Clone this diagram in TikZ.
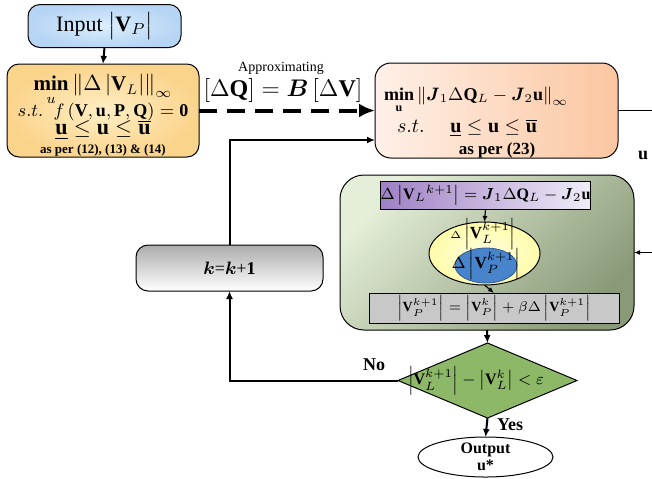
\documentclass[tikz,border=0pt]{standalone}
\usepackage{amsmath, amssymb}
\usepackage{fontspec}
\setmainfont{Liberation Serif}
\usepackage{tikz}
\usetikzlibrary{shapes.geometric, arrows.meta}

\begin{document}
\begin{tikzpicture}[x=0.5pt, y=-0.5pt,
    every node/.style={inner sep=0pt, outer sep=0pt},
    box/.style={draw=black, line width=0.5pt, rounded corners=6pt},
    flow/.style={-{Latex[length=4pt,width=3.5pt]}, line width=1pt},
    thin flow/.style={-{Latex[length=3pt,width=2.5pt]}, line width=0.6pt},
    lbl/.style={font=\fontsize{9}{10}\selectfont\bfseries}]
    % Custom colours for the boxes
    \definecolor{inputIn}{RGB}{220,238,253}    % centre of the input box
    \definecolor{inputOut}{RGB}{182,213,244}   % rim of the input box
    \definecolor{minIn}{RGB}{255,238,196}      % centre of the first problem
    \definecolor{minOut}{RGB}{251,212,140}     % rim of the first problem
    \definecolor{optLeft}{RGB}{255,240,232}    % linearised problem, left
    \definecolor{optRight}{RGB}{251,198,160}   % linearised problem, right
    \definecolor{greenLight}{RGB}{228,238,216} % update block, light corner
    \definecolor{greenDark}{RGB}{138,154,120}  % update block, dark corner
    \definecolor{purpleDark}{RGB}{158,128,196}
    \definecolor{purpleLight}{RGB}{240,236,248}
    \definecolor{ellYellow}{RGB}{255,252,170}
    \definecolor{ellBlue}{RGB}{72,132,204}
    \definecolor{grayBox}{RGB}{200,200,200}
    \definecolor{checkGreen}{RGB}{140,184,104}

    \useasboundingbox (0,0) rectangle (652,478);

    % Input and the original problem
    \node[box, inner color=inputIn, outer color=inputOut, minimum width=76.5pt,
          minimum height=21.5pt, font=\fontsize{11}{12}\selectfont] (input) at (104.5,26)
          {Input $\bigl|\mathbf{V}_{P}\bigr|$};
    \node[box, inner color=minIn, outer color=minOut, minimum width=96pt,
          minimum height=46.5pt] (minA) at (103,110.5) {};
    \node[font=\fontsize{10.5}{12}\selectfont] (minA1) at (103,90)
          {$\mathop{\mathbf{min}}\limits_{u}\left\|\Delta\left|\mathbf{V}_{L}\right|\right\|_{\infty}$};
    \node[font=\fontsize{9}{10}\selectfont] (minA2) at (103,112)
          {$s.t.\;\; f\,(\mathbf{V},\mathbf{u},\mathbf{P},\mathbf{Q})=\mathbf{0}$};
    \node[font=\fontsize{11}{12}\selectfont] (minA3) at (103,130)
          {$\underline{\mathbf{u}}\le\mathbf{u}\le\overline{\mathbf{u}}$};
    \node[font=\fontsize{6.5}{7}\selectfont\bfseries] (minA4) at (103,150)
          {as per (12), (13) \& (14)};

    % Approximation step
    \node[font=\fontsize{7}{8}\selectfont] (approx) at (281,68) {Approximating};
    \node[font=\fontsize{12}{13}\selectfont] (approxEq) at (283,90)
          {$\left[\Delta\mathbf{Q}\right]=\boldsymbol{B}\left[\Delta\mathbf{V}\right]$};

    % Linearised problem
    \node[box, left color=optLeft, right color=optRight, minimum width=121.5pt,
          minimum height=47.5pt, rounded corners=8pt] (optB) at (496.5,110.5) {};
    \node[anchor=west, font=\fontsize{9}{10}\selectfont] (optB1) at (384,100)
          {$\mathop{\mathbf{min}}\limits_{\mathbf{u}}\left\|\boldsymbol{J}_{1}\Delta\mathbf{Q}_{L}-\boldsymbol{J}_{2}\mathbf{u}\right\|_{\infty}$};
    \node[anchor=west, font=\fontsize{10}{12}\selectfont] (optB2) at (397,128)
          {$s.t.\quad\;\underline{\mathbf{u}}\le\mathbf{u}\le\overline{\mathbf{u}}$};
    \node[font=\fontsize{8.5}{9}\selectfont\bfseries] (optB3) at (497,150) {as per (23)};

    % Update block
    \node[box, top color=greenLight, bottom color=greenDark, shading angle=45,
          minimum width=147pt, minimum height=77.5pt, rounded corners=12pt] (upd) at (487,252.5) {};
    \node[draw=black, line width=0.5pt, left color=purpleDark, right color=purpleLight,
          minimum width=95.5pt, minimum height=14pt, font=\fontsize{8}{9}\selectfont] (dV) at (485.5,195)
          {$\Delta\left|\mathbf{V}_{L}{}^{k+1}\right|=\boldsymbol{J}_{1}\Delta\mathbf{Q}_{L}-\boldsymbol{J}_{2}\mathbf{u}$};
    \node[ellipse, draw=black, line width=0.5pt, inner color=ellYellow!40, outer color=ellYellow,
          minimum width=55.5pt, minimum height=31.5pt] (ellL) at (484.5,253.5) {};
    \node[ellipse, draw=ellBlue!70!black, line width=0.4pt, fill=ellBlue,
          minimum width=31pt, minimum height=17.5pt] (ellP) at (486,265.5) {};
    \node[font=\fontsize{8.5}{9}\selectfont] (ellLtxt) at (483,234)
          {${\scriptscriptstyle\Delta}\left|\mathbf{V}_{L}^{k+1}\right|$};
    \node[font=\fontsize{8.5}{9}\selectfont] (ellPtxt) at (486,264)
          {$\Delta\left|\mathbf{V}_{P}^{k+1}\right|$};
    \node[draw=black, line width=0.5pt, fill=grayBox, minimum width=125pt, minimum height=15pt,
          font=\fontsize{7}{8}\selectfont] (vP) at (494,308)
          {$\left|\mathbf{V}_{P}^{k+1}\right|=\left|\mathbf{V}_{P}^{k}\right|+\beta\Delta\left|\mathbf{V}_{P}^{k+1}\right|$};

    % Convergence check, counter and output
    \node[diamond, draw=black, line width=0.5pt, fill=checkGreen, minimum width=89.5pt,
          minimum height=37.5pt] (chk) at (487.5,380.5) {};
    \node[font=\fontsize{8}{9}\selectfont] (chkTxt) at (476,380.5)
          {$\left|\mathbf{V}_{L}^{k+1}\right|-\left|\mathbf{V}_{L}^{k}\right|<\varepsilon$};
    \node[box, top color=gray!65, bottom color=white, minimum width=93.5pt, minimum height=23pt,
          font=\fontsize{9}{10}\selectfont] (kBox) at (229.5,268) {$\boldsymbol{k}$=$\boldsymbol{k}$+\textbf{1}};
    \node[ellipse, draw=black, line width=0.5pt, fill=white, minimum width=67.5pt, minimum height=20pt,
          align=center, font=\fontsize{8}{8.5}\selectfont\bfseries] (outp) at (485.5,457) {Output\\u*};

    % Free ends at the right border
    \coordinate (rightOut) at (652,110.5);
    \coordinate (rightIn) at (652,252.5);

    % Connectors
    \draw[flow] (input.south) -- (minA.north);
    \draw[line width=2pt, dash pattern=on 9pt off 5pt, -{Latex[length=8pt,width=7pt]}]
        (minA.east) -- (optB.west);
    \draw[line width=0.8pt] (optB.east) -- (rightOut);
    \node[lbl] (uOut) at (643,155) {u};
    \draw[thin flow] (rightIn) -- (upd.east);
    \draw[thin flow] (dV.south) -- (ellL.north);
    \draw[thin flow] (ellL.south) -- (vP.north);
    \draw[flow] (upd.south) -- (chk.north);
    \draw[flow] (chk.south) -- (outp.north);
    \node[lbl, anchor=west] (yes) at (497,425) {Yes};
    \draw[flow] (chk.west) -| (kBox.south);
    \node[lbl] (no) at (374,365) {No};
    \draw[flow] (kBox.north) |- ([yshift=-14.75pt]optB.west);

\end{tikzpicture}
\end{document}
